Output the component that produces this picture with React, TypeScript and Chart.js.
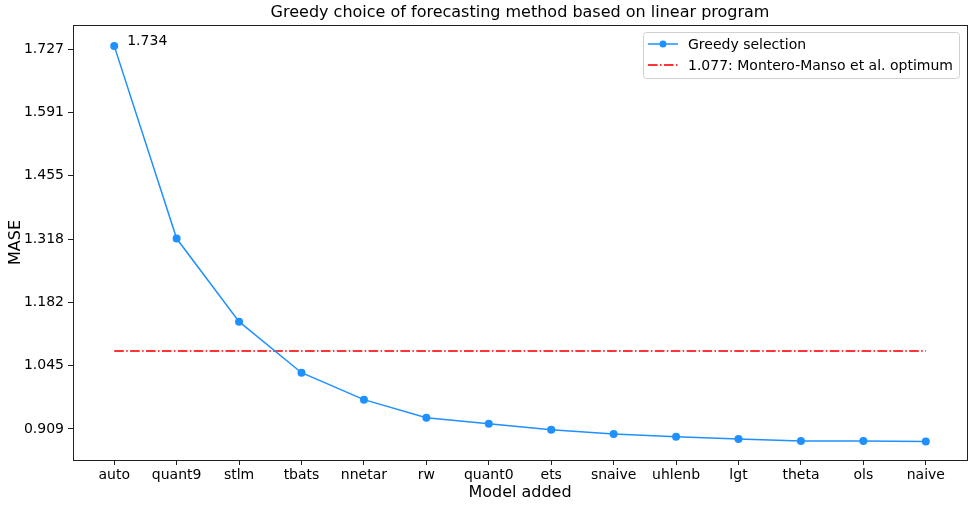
import React, { useEffect, useRef } from "react";
import { Chart, registerables } from "chart.js";

Chart.register(...registerables);

const categories = ["auto", "quant9", "stlm", "tbats", "nnetar", "rw", "quant0", "ets", "snaive", "uhlenb", "lgt", "theta", "ols", "naive"];
const greedyValues = [1.734, 1.319, 1.140, 1.030, 0.972, 0.933, 0.920, 0.907, 0.898, 0.892, 0.887, 0.883, 0.883, 0.882];
const optimumValue = 1.077;
const yTicks = [0.909, 1.045, 1.182, 1.318, 1.455, 1.591, 1.727];
const titleText = "Greedy choice of forecasting method based on linear program";
const greedyLabel = "Greedy selection";
const optimumLabel = "1.077: Montero-Manso et al. optimum";
const annotationText = "1.734";

const FONT = "'DejaVu Sans', sans-serif";
const BLUE = "#1e90ff";
const RED = "rgba(255,30,30,0.9)";
const DASH = [9.6, 2.4, 1.5, 2.4];

const decorPlugin = {
  id: "decor",
  afterDraw(chart: any) {
    const { ctx, chartArea } = chart;
    const xs = chart.scales.x;
    const ys = chart.scales.y;
    ctx.save();
    ctx.strokeStyle = "#222";
    ctx.lineWidth = 1;
    ctx.strokeRect(Math.round(chartArea.left) + 0.5, Math.round(chartArea.top) + 0.5, Math.round(chartArea.right - chartArea.left), Math.round(chartArea.bottom - chartArea.top));
    ctx.fillStyle = "#000";
    ctx.font = `16px ${FONT}`;
    ctx.textAlign = "center";
    ctx.textBaseline = "middle";
    ctx.fillText(titleText, (chartArea.left + chartArea.right) / 2, 13);
    ctx.font = `14px ${FONT}`;
    ctx.textAlign = "left";
    ctx.fillText(annotationText, xs.getPixelForValue(0) + 13, ys.getPixelForValue(greedyValues[0]) - 5);
    const lx = 643, ly = 32, lw = 316, lh = 46;
    ctx.beginPath();
    ctx.roundRect(lx + 0.5, ly + 0.5, lw, lh, 3);
    ctx.fillStyle = "rgba(255,255,255,0.85)";
    ctx.fill();
    ctx.strokeStyle = "#d0d0d0";
    ctx.stroke();
    const r1 = 44, r2 = 65;
    ctx.lineWidth = 1.5;
    ctx.strokeStyle = BLUE;
    ctx.beginPath();
    ctx.moveTo(648, r1);
    ctx.lineTo(678, r1);
    ctx.stroke();
    ctx.fillStyle = BLUE;
    ctx.beginPath();
    ctx.arc(663, r1, 3.5, 0, Math.PI * 2);
    ctx.fill();
    ctx.lineWidth = 2;
    ctx.strokeStyle = RED;
    ctx.setLineDash(DASH);
    ctx.beginPath();
    ctx.moveTo(648, r2);
    ctx.lineTo(678, r2);
    ctx.stroke();
    ctx.setLineDash([]);
    ctx.fillStyle = "#000";
    ctx.font = `14px ${FONT}`;
    ctx.fillText(greedyLabel, 688, r1 + 1);
    ctx.fillText(optimumLabel, 688, r2 + 1);
    ctx.restore();
  },
};

export default function App() {
  const ref = useRef<HTMLCanvasElement>(null);
  useEffect(() => {
    if (!ref.current) return;
    const chart = new Chart(ref.current, {
      type: "line",
      data: {
        datasets: [
          {
            label: greedyLabel,
            data: greedyValues.map((v, i) => ({ x: i, y: v })),
            borderColor: BLUE,
            backgroundColor: BLUE,
            borderWidth: 1.5,
            pointRadius: 4,
            pointBorderWidth: 0,
            tension: 0,
          },
          {
            label: optimumLabel,
            data: categories.map((_, i) => ({ x: i, y: optimumValue })),
            borderColor: RED,
            borderWidth: 2,
            borderDash: DASH,
            pointRadius: 0,
          },
        ],
      },
      options: {
        animation: false,
        responsive: false,
        maintainAspectRatio: false,
        layout: { padding: { top: 25, right: 6, left: 0, bottom: 0 } },
        plugins: { legend: { display: false }, title: { display: false }, tooltip: { enabled: false } },
        scales: {
          x: {
            type: "linear",
            min: -0.66,
            max: 13.66,
            afterBuildTicks: (s: any) => {
              s.ticks = categories.map((_, i) => ({ value: i }));
            },
            afterFit: (s: any) => {
              s.height = 47;
            },
            ticks: {
              autoSkip: false,
              maxRotation: 0,
              color: "#000",
              font: { family: FONT, size: 14 },
              padding: 2,
              callback: (v: any) => categories[v] ?? "",
            },
            grid: { drawOnChartArea: false, tickLength: 5, color: "#222" },
            border: { display: true, color: "#222" },
            title: { display: true, text: "Model added", color: "#000", font: { family: FONT, size: 16 }, padding: { top: 0, bottom: 5 } },
          },
          y: {
            type: "linear",
            min: 0.842,
            max: 1.779,
            afterBuildTicks: (s: any) => {
              s.ticks = yTicks.map((v) => ({ value: v }));
            },
            afterFit: (s: any) => {
              s.width = 73;
            },
            ticks: {
              color: "#000",
              font: { family: FONT, size: 14 },
              padding: 4,
              callback: (v: any) => Number(v).toFixed(3),
            },
            grid: { drawOnChartArea: false, tickLength: 5, color: "#222" },
            border: { display: true, color: "#222" },
            title: { display: true, text: "MASE", color: "#000", font: { family: FONT, size: 16 }, padding: { top: 6, bottom: 0 } },
          },
        },
      },
      plugins: [decorPlugin],
    } as any);
    return () => chart.destroy();
  }, []);
  return (
    <div style={{ position: "absolute", left: 0, top: 0, width: 973, height: 507, background: "#fff" }}>
      <canvas ref={ref} width={973} height={507} style={{ width: 973, height: 507 }} />
    </div>
  );
}
